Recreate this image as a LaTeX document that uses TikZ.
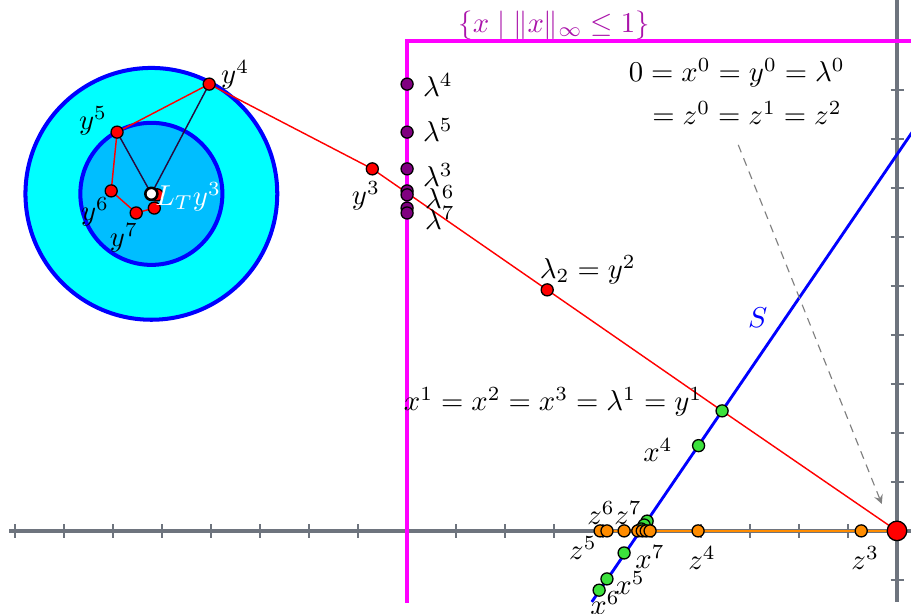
\documentclass[tikz,border=0pt]{standalone}
\usetikzlibrary{arrows}
\definecolor{discext}{RGB}{0,255,255}
\definecolor{discint}{RGB}{0,190,255}
\definecolor{ejegris}{RGB}{110,116,126}
\definecolor{caja}{RGB}{255,0,255}
\definecolor{titulo}{RGB}{170,20,170}
\definecolor{morado}{RGB}{128,0,128}
\definecolor{verde}{RGB}{60,225,60}
\definecolor{naranja}{RGB}{255,140,0}
\definecolor{oscuro}{RGB}{40,10,60}
\begin{document}
\begin{tikzpicture}[x=0.6cm,y=0.6cm,
    pt/.style={circle,draw=black,line width=0.45pt,inner sep=0pt,minimum size=4.2pt},
    ptrojo/.style={pt,fill=red},
    ptmorado/.style={pt,fill=morado},
    ptverde/.style={pt,fill=verde},
    ptnaranja/.style={pt,fill=naranja},
    eje/.style={ejegris,line width=1.3pt},
    marca/.style={ejegris,line width=0.6pt}]
        % Parámetros
        \def\Rext{2.57}   % Radio del disco exterior
        \def\Rint{1.45}   % Radio del disco interior

        % Marco del dibujo
        \clip (-18.31,-1.694) rectangle (0.286,10.837);

        % Coordenadas
        \coordinate (c) at (-15.22,6.88);
        \coordinate (O) at (0,0);
        \coordinate (y1) at (-3.57,2.45);
        \coordinate (y2) at (-7.14,4.92);
        \coordinate (y3) at (-10.71,7.39);
        \coordinate (y4) at (-14.04,9.12);
        \coordinate (y5) at (-15.92,8.14);
        \coordinate (y6) at (-16.04,6.94);
        \coordinate (y7) at (-15.53,6.49);
        \coordinate (y8) at (-15.16,6.59);
        \coordinate (y9) at (-15.10,6.86);
        \coordinate (Sa) at (-6.23,-1.45);
        \coordinate (Sb) at (0.40,8.27);
        \coordinate (zfin) at (-6.08,0);
        \coordinate (da) at (-3.24,7.88);
        \coordinate (db) at (-0.31,0.55);

        % Dibujar los discos
        \filldraw[fill=discext, draw=blue, line width=1.4pt] (c) circle (\Rext);
        \filldraw[fill=discint, draw=blue, line width=1.4pt] (c) circle (\Rint);

        % Dibujar los ejes
        \draw[eje] (-18.12,0) -- (0.4,0);
        \draw[eje] (0,-1.45) -- (0,11);
        \foreach \i in {-18,...,-1}
            \draw[marca] (\i,-0.14) -- (\i,0.14);
        \foreach \j in {-1,1,2,...,10}
            \draw[marca] (-0.13,\j) -- (0.14,\j);

        % Caja de la norma infinito
        \draw[caja, line width=1.4pt] (-10,-1.47) -- (-10,10) -- (0.4,10);
        \node[titulo] (tit) at (-7.0,10.33) {$\{x \mid \|x\|_\infty \le 1\}$};

        % Recta S
        \draw[blue, line width=1pt] (Sa) -- (Sb);
        \node[blue] (lS) at (-2.84,4.35) {$S$};

        % Poligonal roja y segmentos al centro
        \draw[red, line width=0.5pt] (O) -- (y1) -- (y2) -- (y3) -- (y4) -- (y5) -- (y6) -- (y7) -- (y8) -- (y9);
        \draw[oscuro, line width=0.5pt] (y4) -- (c) -- (y5);

        % Segmento naranja sobre el eje
        \draw[naranja, line width=0.9pt] (zfin) -- (O);

        % Flecha discontinua
        \draw[gray, line width=0.4pt, dash pattern=on 2.8pt off 2.2pt, -stealth] (da) -- (db);

        % Puntos lambda
        \node[ptmorado] (l4) at (-10,9.12) {};
        \node[ptmorado] (l5) at (-10,8.14) {};
        \node[ptmorado] (l3) at (-10,7.39) {};
        \node[ptmorado] (l6) at (-10,6.94) {};
        \node[ptmorado] (l9) at (-10,6.86) {};
        \node[ptmorado] (l8) at (-10,6.59) {};
        \node[ptmorado] (l7) at (-10,6.49) {};

        % Puntos x
        \node[ptverde] (x1) at (y1) {};
        \node[ptverde] (x4) at (-4.05,1.74) {};
        \node[ptverde] (x5) at (-5.57,-0.45) {};
        \node[ptverde] (x6) at (-5.92,-0.98) {};
        \node[ptverde] (x7) at (-6.08,-1.21) {};
        \node[ptverde] (x8) at (-5.10,0.20) {};
        \node[ptverde] (x9) at (-5.16,0.12) {};
        \node[ptverde] (x10) at (-5.22,0.04) {};

        % Puntos z
        \node[ptnaranja] (z3) at (-0.73,0) {};
        \node[ptnaranja] (z4) at (-4.06,0) {};
        \node[ptnaranja] (z5) at (-6.06,0) {};
        \node[ptnaranja] (z6) at (-5.92,0) {};
        \node[ptnaranja] (z7) at (-5.57,0) {};
        \foreach \k in {-5.29,-5.20,-5.12,-5.04}
            \node[ptnaranja] at (\k,0) {};

        % Puntos y
        \node[ptrojo] (py1) at (y2) {};
        \node[ptrojo] (py3) at (y3) {};
        \node[ptrojo] (py4) at (y4) {};
        \node[ptrojo] (py5) at (y5) {};
        \node[ptrojo] (py6) at (y6) {};
        \node[ptrojo] (py7) at (y7) {};
        \node[ptrojo] (py8) at (y8) {};
        \node[ptrojo] (py9) at (y9) {};
        \node[pt, fill=white, line width=0.9pt] (pc) at (c) {};
        \node[ptrojo, minimum size=6.8pt] (pO) at (O) {};

        % Etiquetas
        \node (ty4) at (-13.51,9.31) {$y^4$};
        \node (ty5) at (-16.41,8.37) {$y^5$};
        \node (ty6) at (-16.37,6.51) {$y^6$};
        \node (ty7) at (-15.78,5.98) {$y^7$};
        \node[white] (tc) at (-14.47,6.82) {$L_T y^3$};
        \node (ty3) at (-10.84,6.84) {$y^3$};
        \node (tl4) at (-9.37,9.10) {$\lambda^4$};
        \node (tl5) at (-9.37,8.18) {$\lambda^5$};
        \node (tl3) at (-9.37,7.27) {$\lambda^3$};
        \node (tl6) at (-9.33,6.82) {$\lambda^6$};
        \node (tl7) at (-9.33,6.39) {$\lambda^7$};
        \node (ty2) at (-6.31,5.33) {$\lambda_2 = y^2$};
        \node (ty1) at (-7.02,2.63) {$x^1 = x^2 = x^3 = \lambda^1 = y^1$};
        \node (tx4) at (-4.88,1.65) {$x^4$};
        \node (tx7) at (-5.04,-0.53) {$x^7$};
        \node (tx5) at (-5.45,-1.06) {$x^5$};
        \node (tx6) at (-5.96,-1.47) {$x^6$};
        \node (tz3) at (-0.65,-0.55) {$z^3$};
        \node (tz4) at (-3.98,-0.55) {$z^4$};
        \node (tz5) at (-6.41,-0.35) {$z^5$};
        \node (tz6) at (-6.04,0.37) {$z^6$};
        \node (tz7) at (-5.49,0.37) {$z^7$};
        \node (t0a) at (-3.27,9.35) {$0 = x^0 = y^0 = \lambda^0$};
        \node (t0b) at (-3.06,8.53) {$= z^0 = z^1 = z^2$};
    \end{tikzpicture}
\end{document}
